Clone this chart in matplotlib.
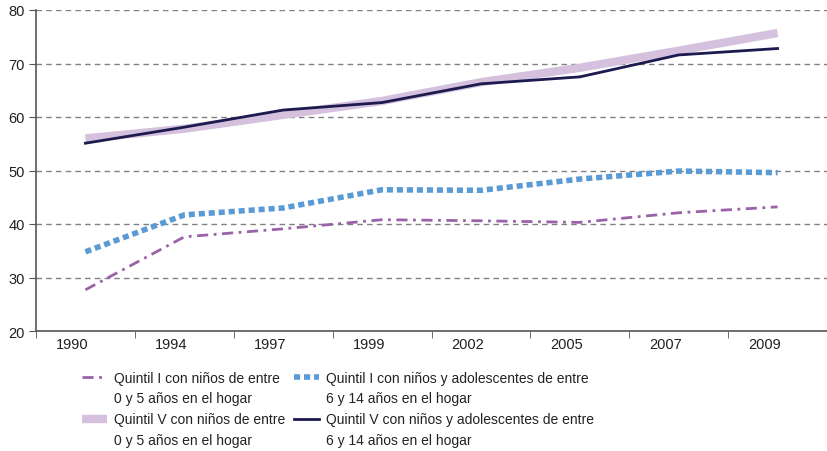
import numpy as np
import matplotlib
matplotlib.use("Agg")
import matplotlib.pyplot as plt
from matplotlib.lines import Line2D
from matplotlib.transforms import ScaledTranslation

plt.rcParams["font.family"] = ["Liberation Sans", "DejaVu Sans"]

years = ["1990", "1994", "1997", "1999", "2002", "2005", "2007", "2009"]
q1_0a5 = [27.7, 37.6, 39.1, 40.8, 40.6, 40.3, 42.1, 43.2]
q1_6a14 = [34.8, 41.7, 43.0, 46.4, 46.3, 48.4, 49.9, 49.6]
q5_0a5 = [56.0, 57.8, 60.4, 63.0, 66.5, 69.2, 72.4, 75.7]
q5_6a14 = [55.1, 58.1, 61.3, 62.7, 66.2, 67.5, 71.6, 72.8]

# legend labels split in two lines, handle sits on the first one
lab_q1_0a5 = ["Quintil I con niños de entre", "0 y 5 años en el hogar"]
lab_q1_6a14 = ["Quintil I con niños y adolescentes de entre", "6 y 14 años en el hogar"]
lab_q5_0a5 = ["Quintil V con niños de entre", "0 y 5 años en el hogar"]
lab_q5_6a14 = ["Quintil V con niños y adolescentes de entre", "6 y 14 años en el hogar"]

fig = plt.figure(figsize=(8.27, 4.52), dpi=100)
ax = fig.add_axes([36 / 827, 1 - 332 / 452, 791 / 827, 321 / 452])

x = np.arange(len(years))
l1, = ax.plot(x, q1_0a5, color="#9a62a8", lw=2, dashes=(4, 2, 1, 2))
l2, = ax.plot(x, q1_6a14, color="#5b9bd5", lw=4, dashes=(1.1, 0.7))
l3, = ax.plot(x, q5_0a5, color="#d5c1de", lw=6, solid_capstyle="butt")
l4, = ax.plot(x, q5_6a14, color="#1c1a4f", lw=2)

ax.set_xlim(-0.5, len(years) - 0.5)
ax.set_ylim(20, 80)
ax.set_yticks(range(20, 81, 10))
ax.set_xticks(x)
ax.set_xticklabels(years)
ax.set_xticks(np.arange(-0.5, len(years) - 0.4, 1), minor=True)
ax.tick_params(axis="x", which="major", length=0, pad=4, labelsize=10.5, colors="#222222")
ax.tick_params(axis="x", which="minor", length=5, color="#555555", direction="out")
ax.tick_params(axis="y", length=5, pad=3, color="#555555", labelsize=10.5, colors="#222222")
offset = ScaledTranslation(-13 / 100, 0, fig.dpi_scale_trans)
for lab in ax.get_xticklabels():
    lab.set_transform(lab.get_transform() + offset)

for v in range(30, 81, 10):
    ax.axhline(v, color="#808080", lw=1, dashes=(4, 3), zorder=0)

for s in ["top", "right"]:
    ax.spines[s].set_visible(False)
for s in ["left", "bottom"]:
    ax.spines[s].set_color("#555555")
    ax.spines[s].set_linewidth(1.2)

blank = Line2D([], [], alpha=0)
handles = [l1, blank, l3, blank, l2, blank, l4, blank]
labels = lab_q1_0a5 + lab_q5_0a5 + lab_q1_6a14 + lab_q5_6a14
leg = fig.legend(handles, labels, ncol=2, frameon=False,
                 loc="upper left", bbox_to_anchor=(76 / 827, 1 - 366 / 452),
                 fontsize=10, handlelength=1.85, handletextpad=0.5,
                 columnspacing=0.6, labelspacing=0.5, borderaxespad=0)
for t in leg.get_texts():
    t.set_color("#222222")

fig.savefig("out.png", dpi=100)
